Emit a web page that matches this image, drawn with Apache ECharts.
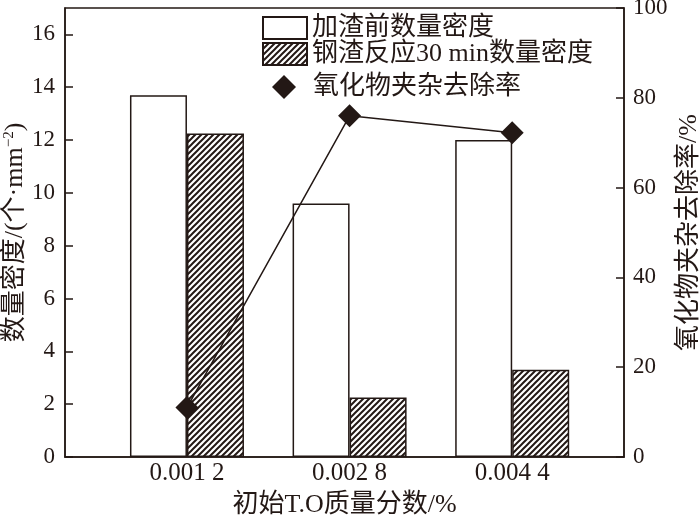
<!DOCTYPE html>
<html>
<head>
<meta charset="utf-8">
<script src="https://cdn.jsdelivr.net/npm/echarts@6/dist/echarts.min.js"></script>
<style>
html,body{margin:0;padding:0;background:#fff;}
#chart{width:700px;height:528px;}
</style>
</head>
<body>
<div id="chart"></div>
<script>
// ---- data ----
var categories = ['0.001 2', '0.002 8', '0.004 4'];
var toValues = [0.0012, 0.0028, 0.0044];           // initial T.O mass fraction, %
var densityBefore = [13.7, 9.6, 12.0];             // 加渣前数量密度
var densityAfter = [12.25, 2.25, 3.3];             // 钢渣反应30 min数量密度
var removalRate = [11, 76, 72.2];                  // 氧化物夹杂去除率 /%
var seriesNames = ['加渣前数量密度', '钢渣反应30 min数量密度', '氧化物夹杂去除率'];

var FONT = '"Liberation Serif", "Noto Sans CJK SC", serif';
var INK = '#231815';

// hatch pattern (///)
function makeHatch() {
  var s = 6;
  var c = document.createElement('canvas');
  c.width = s; c.height = s;
  var ctx = c.getContext('2d');
  ctx.fillStyle = '#fff';
  ctx.fillRect(0, 0, s, s);
  ctx.strokeStyle = INK;
  ctx.lineWidth = 2;
  ctx.beginPath();
  ctx.moveTo(0, s); ctx.lineTo(s, 0);
  ctx.moveTo(-s / 2, s / 2); ctx.lineTo(s / 2, -s / 2);
  ctx.moveTo(s / 2, s * 1.5); ctx.lineTo(s * 1.5, s / 2);
  ctx.stroke();
  return c;
}
var hatch = makeHatch();

function pairs(xs, ys) {
  return xs.map(function (x, i) { return [x, ys[i]]; });
}

var chart = echarts.init(document.getElementById('chart'), null, { renderer: 'canvas' });
chart.setOption({
  animation: false,
  backgroundColor: '#fff',
  textStyle: { fontFamily: FONT, color: INK },
  grid: {
    left: 65, right: 76, top: 8, bottom: 71,
    containLabel: false, outerBoundsMode: 'none',
    show: true, borderColor: INK, borderWidth: 1.5, backgroundColor: 'transparent'
  },
  legend: [{
    data: [
      { name: seriesNames[0], icon: 'rect' },
      { name: seriesNames[1], icon: 'rect' }
    ],
    orient: 'vertical', left: 257, top: 10,
    itemWidth: 44, itemHeight: 22, itemGap: 0,
    selectedMode: false,
    textStyle: { fontFamily: FONT, fontSize: 26, color: INK }
  }, {
    data: [{ name: seriesNames[2], icon: 'diamond' }],
    orient: 'vertical', left: 267, top: 69,
    itemWidth: 24, itemHeight: 24,
    symbolKeepAspect: true,
    selectedMode: false,
    textStyle: { fontFamily: FONT, fontSize: 26, color: INK, padding: [0, 0, 0, 12] }
  }],
  xAxis: {
    type: 'value', min: 0, max: 0.0055,
    name: '初始T.O质量分数/%', nameLocation: 'middle', nameGap: 35, nameMoveOverlap: false,
    nameTextStyle: { fontFamily: FONT, fontSize: 26, color: INK },
    axisLine: { lineStyle: { color: INK, width: 1.5 } },
    axisTick: { show: false },
    splitLine: { show: false },
    axisLabel: {
      customValues: toValues,
      margin: 4,
      fontFamily: FONT, fontSize: 25, color: INK,
      formatter: function (v) {
        for (var i = 0; i < toValues.length; i++) {
          if (Math.abs(v - toValues[i]) < 1e-9) return categories[i];
        }
        return '';
      }
    }
  },
  yAxis: [{
    type: 'value', min: 0, max: 17, interval: 2, position: 'left',
    name: '数量密度/(个·mm{sup|−2})', nameLocation: 'middle', nameGap: 37, nameRotate: 90,
    nameMoveOverlap: false,
    nameTextStyle: {
      fontFamily: FONT, fontSize: 26, color: INK,
      rich: { sup: { fontFamily: FONT, fontSize: 15, color: INK, verticalAlign: 'top', padding: [0, 0, 10, 0] } }
    },
    axisLine: { show: true, lineStyle: { color: INK, width: 1.5 } },
    axisTick: { show: true, inside: true, length: 8, lineStyle: { color: INK, width: 1.5 } },
    axisLabel: { showMaxLabel: false, margin: 10, fontFamily: FONT, fontSize: 23, color: INK },
    splitLine: { show: false }
  }, {
    type: 'value', min: 0, max: 100, interval: 20, position: 'right',
    name: '氧化物夹杂去除率/%', nameLocation: 'middle', nameGap: 52, nameRotate: 90,
    nameMoveOverlap: false,
    nameTextStyle: { fontFamily: FONT, fontSize: 26, color: INK },
    axisLine: { show: true, lineStyle: { color: INK, width: 1.5 } },
    axisTick: { show: true, inside: true, length: 8, lineStyle: { color: INK, width: 1.5 } },
    axisLabel: { margin: 9, fontFamily: FONT, fontSize: 23, color: INK },
    splitLine: { show: false }
  }],
  series: [{
    name: seriesNames[0], type: 'bar', yAxisIndex: 0,
    barWidth: 57, barGap: '0%',
    itemStyle: { color: '#fff', borderColor: INK, borderWidth: 1.5 },
    data: pairs(toValues, densityBefore), z: 2
  }, {
    name: seriesNames[1], type: 'bar', yAxisIndex: 0,
    barWidth: 57, barGap: '0%',
    itemStyle: { color: { image: hatch, repeat: 'repeat' }, borderColor: INK, borderWidth: 1.5 },
    data: pairs(toValues, densityAfter), z: 2
  }, {
    name: seriesNames[2], type: 'line', yAxisIndex: 1,
    symbol: 'diamond', symbolSize: 23,
    lineStyle: { color: INK, width: 1.5 },
    itemStyle: { color: INK },
    data: pairs(toValues, removalRate), z: 5
  }]
});
</script>
</body>
</html>
